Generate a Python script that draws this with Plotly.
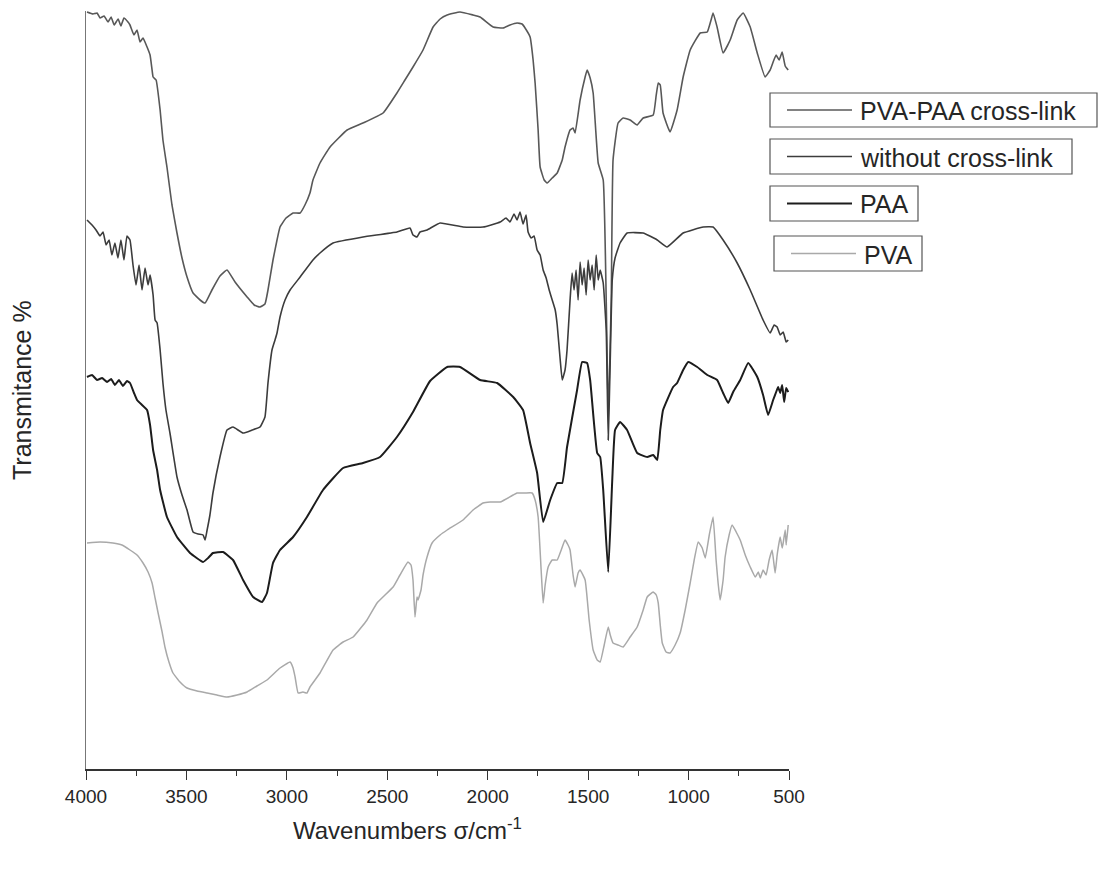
import plotly.graph_objects as go

# ---------------- data (y = relative transmittance, arbitrary units) ----------------
xl_wn = [3995,3965,3945,3930,3910,3890,3875,3860,3840,3826,3811,3791,3781,3761,3746,3731,3716,3696,3681,3671,
         3666,3651,3631,3617,3597,3572,3547,3522,3497,3467,3432,3407,3373,3333,3298,3258,3198,3163,3134,3109,
         3094,3069,3049,3034,3004,2969,2934,2910,2885,2870,2835,2785,2700,2621,2521,2452,2412,2372,2322,2272,
         2237,2202,2138,2073,2038,1973,1923,1889,1854,1829,1814,1789,1774,1764,1749,1739,1719,1704,1679,1654,
         1629,1615,1590,1575,1565,1540,1515,1505,1490,1475,1450,1425,1410,1400,1385,1376,1351,1326,1291,1256,
         1226,1176,1161,1151,1141,1127,1092,1057,1027,992,942,907,888,878,858,828,793,758,728,693,
         658,619,594,579,564,549,534,519,504]
xl_t = [757,755,756,751,753,747,752,744,750,743,751,747,744,734,739,727,731,722,714,699,
        692,689,659,629,602,564,536,511,492,476,469,466,479,493,499,487,472,464,462,465,
        479,509,529,542,551,556,556,564,576,589,606,622,639,646,656,676,689,702,719,742,
        750,754,757,754,752,742,741,744,746,745,741,732,709,686,639,602,589,586,591,596,
        609,622,639,641,636,669,692,699,691,676,606,589,469,352,469,609,646,651,649,644,
        651,654,674,686,684,656,637,659,692,719,736,737,749,756,742,716,729,749,756,742,
        716,692,699,707,714,709,717,703,699]

nx_wn = [3995,3970,3950,3930,3915,3900,3885,3871,3856,3841,3826,3811,3796,3781,3766,3751,3736,3721,3706,3691,
         3681,3666,3656,3646,3631,3617,3602,3582,3547,3522,3497,3467,3442,3417,3407,3397,3383,3368,3333,3298,
         3268,3218,3173,3134,3109,3094,3074,3059,3049,3034,3009,2984,2934,2870,2835,2770,2621,2452,2387,2372,
         2352,2337,2302,2237,2123,2023,1938,1909,1889,1869,1854,1839,1824,1809,1799,1784,1769,1754,1739,1724,
         1709,1694,1679,1664,1654,1639,1629,1615,1605,1590,1580,1570,1560,1550,1540,1530,1520,1510,1500,1490,
         1480,1470,1460,1450,1440,1425,1410,1400,1390,1380,1366,1341,1306,1226,1156,1107,1027,927,878,828,
         758,693,629,594,574,559,544,529,514,504]
nx_t = [549,544,539,533,537,524,529,514,526,511,529,509,533,529,504,484,504,479,501,484,
        494,474,449,446,419,386,359,336,292,274,259,237,235,234,229,239,254,276,312,339,
        342,336,339,342,352,386,419,429,436,452,469,479,492,509,516,526,532,537,541,534,
        532,537,539,546,542,542,547,551,547,555,549,557,545,554,537,531,533,519,514,499,
        491,479,469,459,444,409,389,399,419,469,496,479,499,469,507,484,501,474,509,489,
        504,479,514,489,499,486,439,329,409,489,511,526,536,536,529,522,536,542,542,529,
        506,479,449,436,444,442,434,437,427,429]

paa_wn = [3995,3970,3945,3920,3895,3875,3856,3836,3816,3796,3781,3761,3746,3721,3696,3681,3666,3646,3631,3597,
          3547,3482,3417,3392,3368,3318,3268,3218,3168,3124,3099,3069,3034,2969,2900,2820,2720,2621,2536,2452,
          2372,2287,2202,2138,2038,1953,1873,1824,1789,1754,1724,1689,1654,1629,1605,1555,1530,1505,1490,1455,
          1440,1425,1400,1380,1366,1341,1306,1256,1206,1176,1156,1141,1127,1077,1057,1027,1002,957,907,858,
          828,803,778,743,703,658,629,604,579,564,554,544,534,524,514,504]
paa_t = [392,394,389,391,387,390,384,389,383,388,386,376,369,364,359,344,319,299,279,252,
         232,216,207,211,216,217,209,189,172,167,176,206,219,232,252,279,301,306,312,332,
         357,388,402,402,389,386,372,359,326,296,247,269,286,286,322,379,407,406,389,316,
         312,279,197,289,339,347,339,316,312,314,309,339,359,382,386,399,407,402,394,389,
         376,366,377,389,406,392,374,354,369,377,382,376,384,367,381,377]

pva_wn = [3995,3930,3866,3821,3781,3746,3716,3691,3671,3656,3641,3621,3607,3587,3567,3532,3497,3447,3397,3348,
          3298,3248,3198,3149,3099,3034,2984,2969,2959,2944,2920,2900,2885,2835,2770,2720,2670,2601,2551,2471,
          2437,2397,2382,2372,2362,2352,2347,2332,2322,2302,2277,2237,2202,2123,2073,2023,1988,1938,1873,1854,
          1814,1779,1764,1749,1734,1724,1714,1699,1679,1654,1634,1615,1600,1590,1575,1565,1550,1540,1515,1495,
          1475,1455,1440,1420,1400,1390,1376,1351,1326,1291,1256,1226,1206,1176,1161,1151,1141,1131,1112,1092,
          1067,1042,1017,992,972,952,932,917,897,878,863,853,843,828,818,798,783,763,743,718,
          693,668,653,643,629,614,599,584,569,559,544,534,529,519,514,504]
pva_t = [226,227,226,224,219,214,206,197,186,171,156,137,122,107,96,87,81,78,76,74,
         72,74,77,83,89,101,107,101,92,76,77,76,82,96,119,127,132,149,166,182,
         194,207,204,189,152,172,169,179,194,212,226,234,239,249,259,266,267,267,274,276,
         276,276,269,252,199,166,184,202,209,209,219,229,224,219,194,182,196,199,189,149,
         119,109,107,124,142,134,126,124,122,132,142,159,172,177,174,166,144,126,117,116,
         124,136,159,186,209,227,221,211,234,252,209,186,169,189,212,234,244,237,229,214,
         202,192,197,191,199,194,209,219,196,214,232,221,226,239,224,244]

names = ["PVA-PAA cross-link", "without cross-link", "PAA", "PVA"]
colors = ["#585858", "#3c3c3c", "#1c1c1c", "#a9a9a9"]
widths = [1.6, 1.6, 2.0, 1.5]
series = [(xl_wn, xl_t), (nx_wn, nx_t), (paa_wn, paa_t), (pva_wn, pva_t)]

# ---------------- figure ----------------
W, H = 1107, 870
L, R, T, B = 86, 789, 11, 769   # plot area in pixels
FONT = "Liberation Sans, Arial"

fig = go.Figure()
for (wn, t), name, col, lw in zip(series, names, colors, widths):
    fig.add_trace(go.Scatter(x=wn, y=t, mode="lines", name=name,
                             line=dict(color=col, width=lw, shape="spline", smoothing=0.35),
                             showlegend=False))

def px(xp):
    return (xp - L) / (R - L)

def py(yp):
    return (B - yp) / (B - T)

# legend: four separate framed boxes
boxes = [  # x0, x1, y0, y1 (pixels)
    (770, 1097, 93, 127),
    (770, 1072, 139, 174),
    (770, 918, 186, 221),
    (774, 922, 236, 271),
]
shapes = []
annotations = []
for (x0, x1, y0, y1), name, col, lw in zip(boxes, names, colors, widths):
    shapes.append(dict(type="rect", xref="paper", yref="paper",
                       x0=px(x0), x1=px(x1), y0=py(y1), y1=py(y0),
                       line=dict(color="#555555", width=1.2), fillcolor="rgba(0,0,0,0)"))
    yc = (y0 + y1) / 2
    shapes.append(dict(type="line", xref="paper", yref="paper",
                       x0=px(x0 + 17), x1=px(x0 + 82), y0=py(yc), y1=py(yc),
                       line=dict(color=col, width=lw)))
    annotations.append(dict(text=name, xref="paper", yref="paper",
                            x=px(x0 + 88), y=py(yc + 1), xanchor="left", yanchor="middle",
                            showarrow=False,
                            font=dict(family=FONT, size=25, color="#262626")))

# axis titles
annotations.append(dict(text="Transmitance %", xref="paper", yref="paper",
                        x=px(22), y=py(390), textangle=-90, xanchor="center", yanchor="middle",
                        showarrow=False,
                        font=dict(family=FONT, size=25, color="#262626")))
annotations.append(dict(text="Wavenumbers \u03c3/cm<sup>-1</sup>", xref="paper", yref="paper",
                        x=px(407), y=py(829), xanchor="center", yanchor="middle",
                        showarrow=False,
                        font=dict(family=FONT, size=24, color="#262626")))

fig.update_layout(
    width=W, height=H,
    margin=dict(l=L, r=W - R, t=T, b=H - B),
    paper_bgcolor="white", plot_bgcolor="white",
    showlegend=False,
    shapes=shapes, annotations=annotations,
    xaxis=dict(range=[4000, 500], tickvals=[4000, 3500, 3000, 2500, 2000, 1500, 1000, 500],
               ticks="outside", ticklen=9, tickwidth=1.3, tickcolor="#333333",
               showline=True, linecolor="#333333", linewidth=1.6,
               showgrid=False, zeroline=False,
               minor=dict(dtick=250, ticks="outside", ticklen=5, tickwidth=1.2, tickcolor="#333333",
                          showgrid=False),
               tickfont=dict(family=FONT, size=19, color="#262626")),
    yaxis=dict(range=[0, 758], showticklabels=False, ticks="", showgrid=False, zeroline=False,
               showline=True, linecolor="#777777", linewidth=1.2),
)

fig.write_html("out.html")
